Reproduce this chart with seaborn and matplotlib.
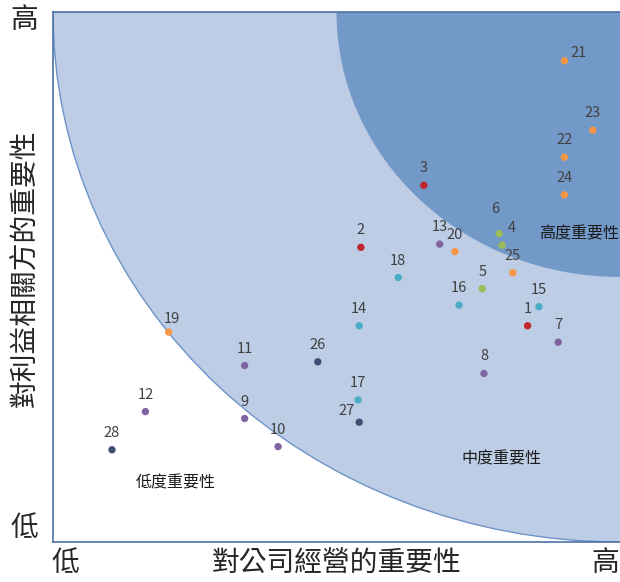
import matplotlib
matplotlib.use("Agg")
import matplotlib.pyplot as plt
from matplotlib.patches import Ellipse
import seaborn as sns
import pandas as pd

# 議題編號與座標 (0~10)
ids = list(range(1, 29))
x_vals = [8.37, 5.43, 6.54, 7.92, 7.57, 7.87, 8.91, 7.60, 3.38, 3.97,
          3.38, 1.63, 6.82, 5.40, 8.57, 7.16, 5.38, 6.09, 2.04, 7.09,
          9.02, 9.02, 9.52, 9.02, 8.11, 4.67, 5.40, 1.04]
y_vals = [4.08, 5.56, 6.73, 5.60, 4.78, 5.82, 3.77, 3.18, 2.33, 1.80,
          3.33, 2.46, 5.62, 4.08, 4.44, 4.47, 2.68, 4.99, 3.96, 5.48,
          9.08, 7.26, 7.77, 6.55, 5.08, 3.40, 2.26, 1.74]
groups = (["A"] * 3 + ["B"] * 3 + ["C"] * 7 + ["D"] * 5 + ["E"] * 7 + ["F"] * 3)
group_colors = {"A": "#c0272d", "B": "#9bbb59", "C": "#8064a2",
                "D": "#4bacc6", "E": "#f79646", "F": "#3d4f73"}

x_title = "對公司經營的重要性"
y_title = "對利益相關方的重要性"
zones = ["高度重要性", "中度重要性", "低度重要性"]

df = pd.DataFrame({"id": ids, "x": x_vals, "y": y_vals, "g": groups})

sns.set_theme(style="white")
plt.rcParams["font.family"] = ["Noto Sans CJK TC", "DejaVu Sans"]

fig = plt.figure(figsize=(6.2, 5.82), dpi=100)
ax = fig.add_axes([53 / 620, 40 / 582, 567 / 620, 530 / 582])
ax.set_xlim(0, 10)
ax.set_ylim(0, 10)

outer = Ellipse((10, 10), 20, 20, facecolor="#bdcde5", edgecolor="#6d93c8",
                linewidth=1.0, zorder=0)
inner = Ellipse((10, 10), 10, 10, facecolor="#7399c8", edgecolor="none",
                zorder=1)
ax.add_patch(outer)
ax.add_patch(inner)

sns.scatterplot(data=df, x="x", y="y", hue="g", palette=group_colors,
                s=28, edgecolor="none", legend=False, ax=ax, zorder=3)

# 標籤偏移 (像素)
offsets = {21: (14, 8), 4: (10, 17), 6: (-4, 25), 27: (-13, 11), 19: (3, 13)}
for i, xv, yv in zip(ids, x_vals, y_vals):
    dx, dy = offsets.get(i, (0, 17))
    ax.annotate(str(i), (xv, yv), xytext=(dx * 0.72, dy * 0.72),
                textcoords="offset points", ha="center", va="center",
                fontsize=10.5, color="#404040", zorder=4)

# 區域文字 (圖像像素位置)
flip = matplotlib.transforms.Affine2D().scale(1, -1).translate(0, 582)
zone_pos = [(579, 234), (501, 459), (176, 483)]
for txt, (px, py) in zip(zones, zone_pos):
    ax.text(px, py, txt, transform=flip, fontsize=11.5, color="#1a1a1a",
            ha="center", va="center")

ax.set_xticks([])
ax.set_yticks([])
ax.set_xlabel(x_title, fontsize=20, labelpad=4)
ax.set_ylabel(y_title, fontsize=20)
ax.yaxis.set_label_coords(-0.022, 0.517)

for side in ["left", "bottom", "top"]:
    ax.spines[side].set_color("#4a72a8")
    ax.spines[side].set_linewidth(1.2)
ax.spines["right"].set_visible(False)

fig.text(65 / 620, 1 - 563 / 582, "低", fontsize=20, ha="center", va="center")
fig.text(619 / 620, 1 - 563 / 582, "高", fontsize=20, ha="right", va="center")
fig.text(24 / 620, 1 - 20 / 582, "高", fontsize=20, ha="center", va="center")
fig.text(24 / 620, 1 - 528 / 582, "低", fontsize=20, ha="center", va="center")

fig.savefig("out.png", dpi=100)
